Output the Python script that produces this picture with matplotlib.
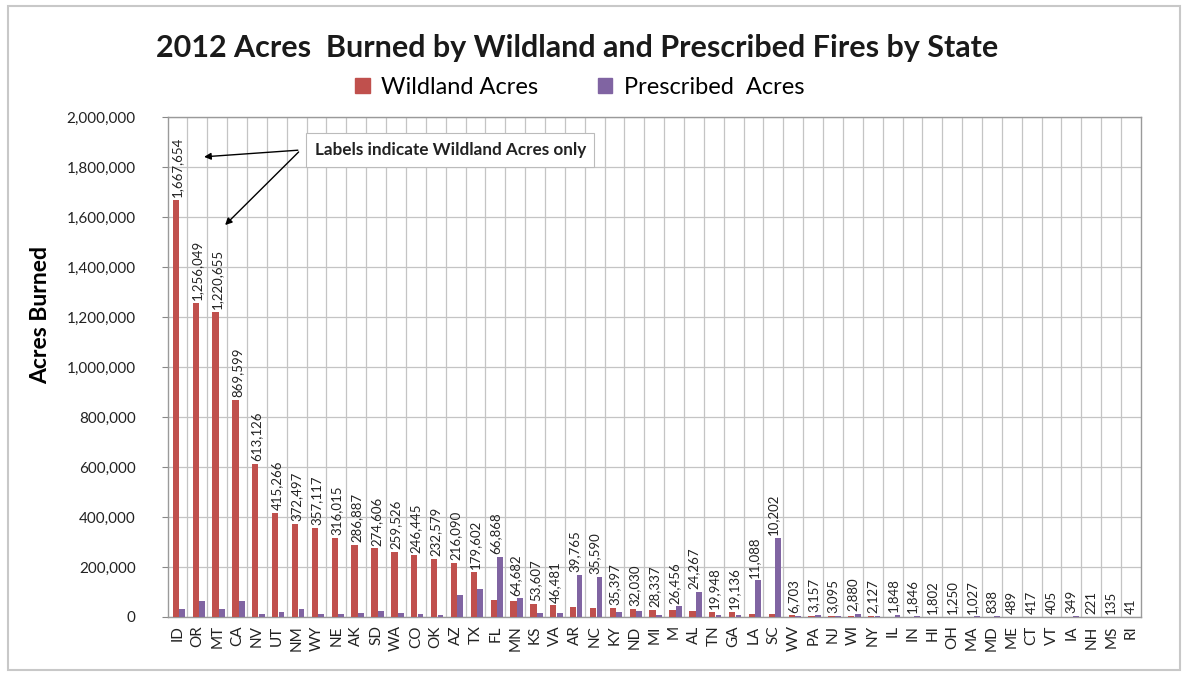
import matplotlib.pyplot as plt
import numpy as np
from matplotlib.patches import Rectangle, Patch

plt.rcParams['font.family'] = ['Lato', 'DejaVu Sans']

states = ['ID', 'OR', 'MT', 'CA', 'NV', 'UT', 'NM', 'WY', 'NE', 'AK', 'SD', 'WA', 'CO',
          'OK', 'AZ', 'TX', 'FL', 'MN', 'KS', 'VA', 'AR', 'NC', 'KY', 'ND', 'MI', 'M',
          'AL', 'TN', 'GA', 'LA', 'SC', 'WV', 'PA', 'NJ', 'WI', 'NY', 'IL', 'IN', 'HI',
          'OH', 'MA', 'MD', 'ME', 'CT', 'VT', 'IA', 'NH', 'MS', 'RI']
wildland = [1667654, 1256049, 1220655, 869599, 613126, 415266, 372497, 357117, 316015,
            286887, 274606, 259526, 246445, 232579, 216090, 179602, 66868, 64682, 53607,
            46481, 39765, 35590, 35397, 32030, 28337, 26456, 24267, 19948, 19136, 11088,
            10202, 6703, 3157, 3095, 2880, 2127, 1848, 1846, 1802, 1250, 1027, 838, 489,
            417, 405, 349, 221, 135, 41]
prescribed = [30000, 65000, 30000, 65000, 10000, 18000, 30000, 12000, 12000, 16000,
              22000, 15000, 13000, 6000, 88000, 112000, 241000, 74000, 14000, 15000,
              168000, 160000, 20000, 22000, 8000, 42000, 100000, 6000, 8000, 146000,
              316000, 2000, 9000, 4000, 12000, 3000, 7000, 5000, 1000, 1500, 2000, 5000,
              1000, 1000, 1000, 5000, 500, 1000, 200]

red = '#C0504D'
purple = '#8064A2'
grid_col = '#C4C4C4'

fig = plt.figure(figsize=(11.88, 6.76), dpi=100)
ax = fig.add_axes([0.141, 0.0873, 0.8194, 0.7396])

x = np.arange(len(states))
ax.bar(x - 0.08, wildland, width=0.32, color=red, zorder=3)
ax.bar(x + 0.24, prescribed, width=0.29, color=purple, zorder=3)

# value labels show wildland acres, placed above the taller bar of each pair
for xi, w, p in zip(x, wildland, prescribed):
    ax.annotate(f'{w:,}', (xi, max(w, p)), xytext=(0, 2), textcoords='offset points',
                rotation=90, ha='center', va='bottom', fontsize=9.5, color='#222222',
                zorder=4)

ax.set_xlim(-0.5, len(states) - 0.5)
ax.set_ylim(0, 2000000)
ax.set_yticks(np.arange(0, 2000001, 200000))
ax.set_yticklabels([f'{v:,}' for v in range(0, 2000001, 200000)], fontsize=11,
                   color='#222222')
ax.set_xticks(x)
ax.set_xticklabels(states, rotation=90, fontsize=11, color='#222222')
ax.set_xticks(x[:-1] + 0.5, minor=True)
ax.tick_params(axis='x', which='both', length=0, pad=6)
ax.tick_params(axis='y', length=4, color='#888888', pad=19)
ax.grid(axis='y', which='major', color=grid_col, lw=0.9, zorder=0)
ax.grid(axis='x', which='minor', color=grid_col, lw=0.9, zorder=0)
for s in ax.spines.values():
    s.set_color('#9A9A9A')
    s.set_linewidth(1)

ax.set_ylabel('Acres Burned', fontsize=16.5, fontweight='bold')
ax.yaxis.set_label_coords(-0.12, 0.604)

fig.text(0.486, 0.929, '2012 Acres  Burned by Wildland and Prescribed Fires by State',
         ha='center', va='center', fontsize=22, fontweight='bold', color='#1a1a1a')

handles = [Patch(color=red), Patch(color=purple)]
fig.legend(handles, ['Wildland Acres', 'Prescribed  Acres'], loc='center',
           bbox_to_anchor=(0.488, 0.871), ncol=2, frameon=False, fontsize=17,
           handlelength=0.6, handleheight=0.6, handletextpad=0.5, columnspacing=2.5)

# note box with arrows pointing at the labels
ax.text(6.9, 1868000, 'Labels indicate Wildland Acres only', fontsize=12.3,
        fontweight='bold', color='#222222', va='center', ha='left', zorder=5,
        bbox=dict(boxstyle='square,pad=0.5', fc='white', ec='#BBBBBB', lw=0.8))
arrow = dict(arrowstyle='-|>', color='black', lw=1, mutation_scale=10)
ax.annotate('', xy=(1.2, 1840000), xytext=(6.2, 1868000), arrowprops=arrow, zorder=5)
ax.annotate('', xy=(2.3, 1560000), xytext=(6.2, 1868000), arrowprops=arrow, zorder=5)

# outer frame
fig.patches.append(Rectangle((8 / 1188, 6 / 676), 1172 / 1188, 664 / 676,
                             transform=fig.transFigure, fill=False,
                             ec='#C8C8C8', lw=1.5))

fig.savefig('out.png', dpi=100)
